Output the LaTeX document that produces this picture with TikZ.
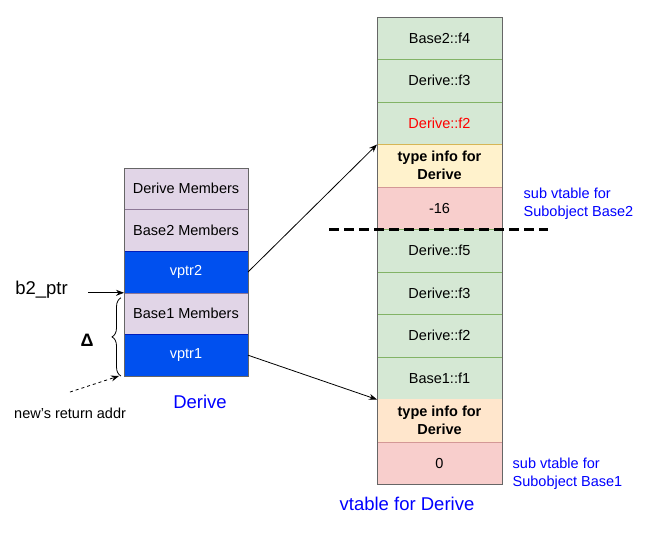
\documentclass[tikz,border=0pt]{standalone}
\usepackage{fontspec}
\setmainfont{Liberation Sans}
\usetikzlibrary{positioning, arrows.meta, decorations.pathreplacing}
\definecolor{lilacfill}{HTML}{E1D5E7}
\definecolor{lilacline}{HTML}{9673A6}
\definecolor{vptrblue}{HTML}{0050EF}
\definecolor{vptrline}{HTML}{001DBC}
\definecolor{slotgreen}{HTML}{D5E8D4}
\definecolor{slotline}{HTML}{82B366}
\definecolor{infoyellow}{HTML}{FFF2CC}
\definecolor{infoyline}{HTML}{D6B656}
\definecolor{infoorange}{HTML}{FFE6CC}
\definecolor{offsetred}{HTML}{F8CECC}
\definecolor{offsetline}{HTML}{B85450}
\definecolor{framegray}{HTML}{666666}
\definecolor{labelblue}{HTML}{0000FF}
\newcommand\cellfont{\fontsize{14.5}{18}\selectfont}
\tikzset{
    cell/.style={draw, minimum width=124pt, minimum height=41.6pt, inner sep=0pt,
                 outer sep=0pt, align=center, font=\cellfont},
    member/.style={cell, fill=lilacfill, draw=lilacline!60!gray},
    vptr/.style={cell, fill=vptrblue, draw=vptrline, text=white},
    slot/.style={cell, minimum width=125pt, minimum height=42.5pt, fill=slotgreen, draw=slotline},
    typeinfo/.style={slot, font=\cellfont\bfseries},
    offset/.style={slot, fill=offsetred, draw=offsetline!60},
    frame/.style={draw=framegray, line width=0.8pt},
    ptrarrow/.style={-{Stealth[length=8pt,width=6pt]}, line width=0.8pt},
    bluetext/.style={text=labelblue, align=left, inner sep=0pt}
}
\begin{document}
\begin{tikzpicture}[x=1pt, y=-1pt]
    \useasboundingbox (0,0) rectangle (649,544);

    %object layout of Derive
    \node[member] (dmem) at (186,188.8) {Derive Members};
    \node[member, below=0pt of dmem] (b2mem) {Base2 Members};
    \node[vptr, below=0pt of b2mem] (vptr2) {vptr2};
    \node[member, below=0pt of vptr2] (b1mem) {Base1 Members};
    \node[vptr, below=0pt of b1mem] (vptr1) {vptr1};
    \draw[frame] (dmem.north west) rectangle (vptr1.south east);
    \node[bluetext, font=\fontsize{18.5}{20}\selectfont] (derive) at (200,402) {Derive};

    %vtable for Derive
    \node[slot] (s1) at (439.5,38.25) {Base2::f4};
    \node[slot, below=0pt of s1] (s2) {Derive::f3};
    \node[slot, below=0pt of s2, text=red] (s3) {Derive::f2};
    \node[typeinfo, fill=infoyellow, draw=infoyline, below=0pt of s3] (ti2) {type info for\\Derive};
    \node[offset, below=0pt of ti2] (off2) {-16};
    \node[slot, below=0pt of off2] (s4) {Derive::f5};
    \node[slot, below=0pt of s4] (s5) {Derive::f3};
    \node[slot, below=0pt of s5] (s6) {Derive::f2};
    \node[slot, below=0pt of s6] (s7) {Base1::f1};
    \node[typeinfo, fill=infoorange, draw=infoorange, below=0pt of s7] (ti1) {type info for\\Derive};
    \node[offset, below=0pt of ti1] (off1) {0};
    \draw[frame] (s1.north west) rectangle (off1.south east);
    \node[bluetext, font=\fontsize{18.5}{20}\selectfont] (vtlabel) at (407,504) {vtable for Derive};

    %sub vtable labels
    \node[bluetext, anchor=west, font=\cellfont] (sub2) at (523.5,203.5) {sub vtable for\\Subobject Base2};
    \node[bluetext, anchor=west, font=\cellfont] (sub1) at (512.5,474) {sub vtable for\\Subobject Base1};
    \draw[line width=3pt, dash pattern=on 10pt off 5pt] ([xshift=-48pt]s4.north west) -- ([xshift=46pt]s4.north east);

    %pointers
    \draw[ptrarrow] (vptr2.east) -- (ti2.north west);
    \draw[ptrarrow] (vptr1.east) -- (ti1.north west);
    \node[font=\fontsize{18.5}{20}\selectfont, anchor=east, inner sep=0pt] (b2ptr) at (68,290) {b2\_ptr};
    \draw[ptrarrow] ([xshift=20pt]b2ptr.east |- vptr2.south west) -- (vptr2.south west);
    \draw[decorate, decoration={brace, amplitude=9pt}, line width=0.8pt]
        ([xshift=-3pt]vptr1.south west) -- ([xshift=-3pt, yshift=-5pt]b1mem.north west);
    \node[font=\bfseries\fontsize{18}{20}\selectfont] (delta) at (87,340) {Δ};
    \coordinate (retstart) at (70,392);
    \draw[ptrarrow, dashed] (retstart) -- ([xshift=-5pt]vptr1.south west);
    \node[font=\fontsize{14.5}{16}\selectfont, anchor=west, inner sep=0pt] (retaddr) at (14,413) {new's return addr};
\end{tikzpicture}
\end{document}
